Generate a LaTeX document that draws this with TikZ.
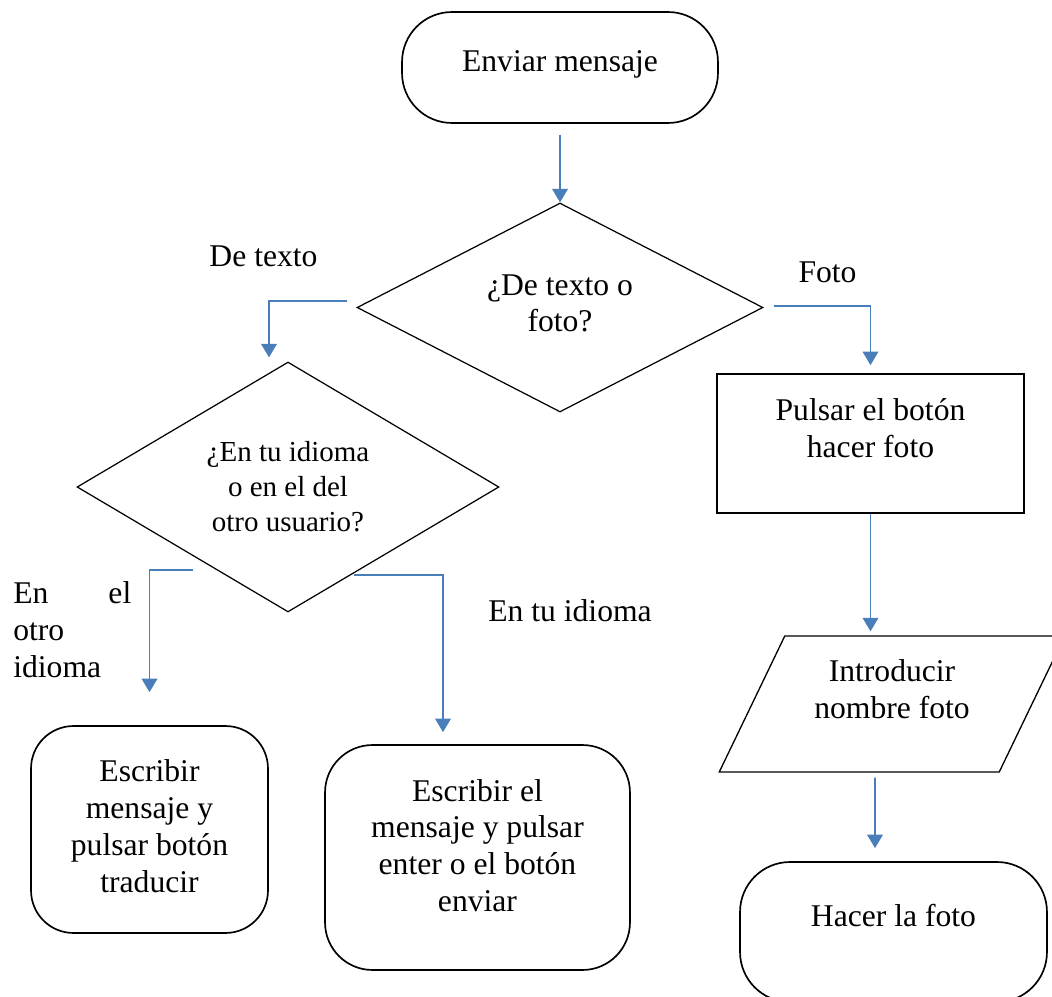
\documentclass[tikz,border=0pt]{standalone}
\usepackage{fontspec}
\setmainfont{Liberation Serif}
\usetikzlibrary{shapes.geometric,arrows.meta}
\definecolor{linkblue}{RGB}{74,126,187}

\begin{document}
\begin{tikzpicture}[x=0.02cm,y=-0.02cm,font=\fontsize{18}{20.9}\selectfont]
    \tikzstyle{line} = [-{Triangle[width=0.31cm,length=0.27cm]}, draw=linkblue,
        line width=1.1pt]
    \tikzstyle{term} = [rectangle, draw=black, line width=0.95pt, align=center,
        rounded corners=1cm, inner sep=2pt]
    \tikzstyle{proc} = [rectangle, draw=black, line width=0.95pt, align=center,
        inner sep=2pt]
    \tikzstyle{decision} = [diamond, draw=black, line width=0.7pt,
        align=center, inner sep=2pt]
    \tikzstyle{io} = [trapezium, trapezium left angle=63,
        trapezium right angle=117, trapezium stretches, draw=black,
        line width=0.75pt, align=center]
    \tikzstyle{lbl} = [inner sep=0pt]

    \useasboundingbox (0,0) rectangle (1052,997);

    \node(start) [term, minimum width=6.32cm, minimum height=2.22cm,
        text depth=7.4pt] at (560,67.5)
        {Enviar mensaje};
    \node(decide) [decision, shape aspect=2, minimum width=8.12cm,
        minimum height=4.18cm, text depth=5pt] at (560,307.5)
        {¿De texto o\\ foto?};
    \node(lang) [decision, shape aspect=1.7, minimum width=8.44cm,
        minimum height=5cm, font=\fontsize{16.5}{19.9}\selectfont]
        at (288,487)
        {¿En tu idioma\\ o en el del\\ otro usuario?};
    \node(photo) [proc, minimum width=6.14cm, minimum height=2.78cm,
        text depth=17.4pt] at (870.5,443.5)
        {Pulsar el botón\\ hacer foto};
    \node(photoname) [io, minimum width=6.92cm, minimum height=2.72cm,
        text depth=17pt] at (892,704)
        {Introducir\\ nombre foto};
    \node(take) [term, minimum width=6.14cm, minimum height=2.8cm,
        text depth=18.4pt] at (893.5,932)
        {Hacer la foto};
    \node(translate) [term, rounded corners=0.85cm, minimum width=4.74cm,
        minimum height=4.14cm, text depth=4pt] at (149.5,829.5)
        {Escribir\\ mensaje y\\ pulsar botón\\ traducir};
    \node(send) [term, rounded corners=0.95cm, minimum width=6.1cm,
        minimum height=4.5cm, text depth=14pt] at (477.5,857.5)
        {Escribir el\\ mensaje y pulsar\\ enter o el botón\\ enviar};

    \node(textlbl) [lbl, anchor=base] at (263.5,266) {De texto};
    \node(photolbl) [lbl, anchor=base] at (827.5,282.7) {Foto};
    \node(ownlbl) [lbl, anchor=base] at (570,621.7) {En tu idioma};
    \node(otherlbl) [lbl, anchor=north west, text width=2.36cm, align=left]
        at (13,581.7) {En\hfill el\\ otro\\ idioma};

    \draw[line] ([yshift=-0.22cm]start.south) -- (decide.north);
    \draw[line] ([xshift=-0.18cm,yshift=0.13cm]decide.west)
        -| ([xshift=-0.38cm,yshift=0.08cm]lang.north);
    \draw[line] ([xshift=0.2cm,yshift=0.03cm]decide.east)
        -| ([yshift=0.16cm]photo.north);
    \draw[line] ([xshift=2.34cm,yshift=-1.66cm]lang.west)
        -| ([yshift=0.66cm]translate.north);
    \draw[line] ([xshift=1.32cm,yshift=0.76cm]lang.south)
        -| ([xshift=-0.69cm,yshift=0.24cm]send.north);
    \draw[line] (photo.south) -- ([yshift=0.08cm]photo.south |- photoname.north);
    \draw[line] ([xshift=-0.34cm,yshift=-0.1cm]photoname.south)
        -- ([xshift=-0.37cm,yshift=0.26cm]take.north);
\end{tikzpicture}
\end{document}
